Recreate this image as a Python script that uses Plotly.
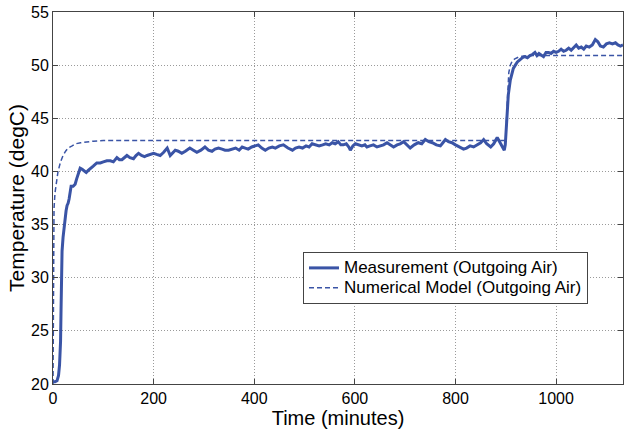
import plotly.graph_objects as go

# Measured outgoing-air temperature (minutes, degC)
meas_time = [0, 4, 8, 11, 13, 15, 16, 17, 18, 20, 22, 24, 26, 28, 30, 32, 34, 36, 40, 44, 47, 50, 54, 58,
             62, 66, 70, 74, 80, 87, 94, 100, 107, 114, 120, 127, 132, 137, 142, 147, 153, 160, 165, 170,
             176, 182, 187, 193, 200, 206, 213, 220, 227, 233, 238, 243, 249, 256, 263, 272, 279, 286, 294,
             302, 309, 316, 322, 329, 336, 342, 349, 356, 363, 370, 376, 382, 388, 395, 402, 408, 415, 422,
             429, 436, 442, 450, 458, 467, 476, 482, 489, 496, 503, 509, 515, 522, 529, 536, 542, 549, 555,
             561, 567, 572, 577, 583, 588, 591, 596, 601, 607, 614, 620, 624, 630, 637, 644, 650, 657, 664,
             670, 677, 684, 690, 697, 703, 710, 718, 726, 733, 740, 747, 754, 762, 770, 775, 780, 786, 793,
             800, 808, 816, 822, 829, 836, 843, 850, 856, 862, 870, 876, 883, 889, 894, 897, 899, 901, 903,
             905, 909, 912, 915, 919, 923, 928, 933, 938, 943, 948, 953, 958, 962, 966, 970, 975, 980, 985,
             990, 995, 1000, 1005, 1010, 1015, 1020, 1025, 1030, 1035, 1040, 1045, 1050, 1055, 1060, 1066,
             1072, 1078, 1083, 1088, 1094, 1100, 1106, 1112, 1118, 1123, 1128, 1133]
meas_temp = [20.2, 20.2, 20.3, 20.8, 21.8, 24.0, 27.0, 30.5, 32.5, 33.8, 34.8, 35.5, 36.3, 36.8, 37.0, 37.4,
             38.3, 38.6, 38.6, 38.8, 39.3, 39.8, 40.3, 40.2, 40.0, 39.9, 40.1, 40.3, 40.5, 40.8, 40.8, 40.9,
             41.0, 41.0, 40.9, 41.3, 41.1, 41.1, 41.3, 41.5, 41.3, 41.2, 41.5, 41.7, 41.5, 41.4, 41.5, 41.6,
             41.7, 41.6, 41.5, 41.8, 42.2, 41.5, 41.8, 42.0, 41.9, 41.7, 41.9, 42.2, 42.0, 41.8, 42.0, 42.3,
             42.0, 41.9, 42.1, 42.2, 42.1, 42.0, 42.0, 42.1, 42.2, 42.0, 42.3, 42.2, 42.1, 42.3, 42.4, 42.5,
             42.2, 42.0, 42.2, 42.3, 42.2, 42.4, 42.5, 42.2, 42.0, 42.2, 42.3, 42.2, 42.4, 42.3, 42.6, 42.5,
             42.4, 42.5, 42.6, 42.5, 42.7, 42.6, 42.8, 42.5, 42.5, 42.6, 42.3, 42.0, 42.4, 42.6, 42.5, 42.4,
             42.5, 42.3, 42.4, 42.5, 42.3, 42.4, 42.5, 42.7, 42.5, 42.3, 42.5, 42.6, 42.8, 42.5, 42.2, 42.5,
             42.7, 42.6, 43.0, 42.8, 42.7, 42.5, 42.4, 42.7, 43.0, 42.8, 42.7, 42.5, 42.3, 42.1, 42.2, 42.4,
             42.3, 42.5, 42.7, 43.0, 42.6, 42.3, 42.6, 43.2, 42.7, 42.3, 42.0, 42.5, 44.0, 46.0, 47.2, 48.6,
             49.2, 49.7, 50.0, 50.3, 50.5, 50.7, 50.8, 50.7, 50.9, 51.0, 51.2, 50.9, 51.1, 51.0, 50.8, 51.2,
             51.2, 51.1, 51.3, 51.2, 51.3, 51.5, 51.3, 51.4, 51.6, 51.4, 51.7, 51.9, 51.6, 51.7, 51.5, 51.8,
             51.7, 51.9, 52.4, 52.2, 51.8, 51.7, 52.0, 52.1, 52.0, 52.1, 51.9, 51.8, 51.9]

# Numerical model output (minutes, degC)
model_time = [0, 0.5, 1, 2, 4, 7, 10, 15, 20, 25, 30, 38, 45, 55, 67, 80, 100, 900, 902, 904, 906, 909,
              913, 918, 925, 935, 950, 1133]
model_temp = [20.0, 30.0, 34.0, 36.5, 38.0, 39.2, 40.0, 40.9, 41.5, 41.9, 42.2, 42.4, 42.6, 42.7, 42.8,
              42.85, 42.9, 42.9, 45.5, 48.0, 49.3, 50.0, 50.4, 50.6, 50.75, 50.85, 50.9, 50.9]

x_ticks = [0, 200, 400, 600, 800, 1000]
y_ticks = [20, 25, 30, 35, 40, 45, 50, 55]

line_color = "#3A54A6"
font_family = "Liberation Sans, Arial, sans-serif"


def legend_label(text):
    # larger glyphs inside a compact legend row
    return f"<span style='font-size:17px'>{text}</span>"


fig = go.Figure()
fig.add_trace(go.Scatter(x=meas_time, y=meas_temp, mode="lines",
                         name=legend_label("Measurement (Outgoing Air)"),
                         line=dict(color=line_color, width=3)))
fig.add_trace(go.Scatter(x=model_time, y=model_temp, mode="lines",
                         name=legend_label("Numerical Model (Outgoing Air)"),
                         line=dict(color=line_color, width=1.5, dash="5px,3px")))

axis_common = dict(
    showline=True, linecolor="#444444", linewidth=1, mirror="ticks",
    ticks="inside", ticklen=5, tickcolor="#444444",
    showgrid=True, gridcolor="#9a9a9a", griddash="1px,2px", gridwidth=1,
    zeroline=False,
    tickfont=dict(family=font_family, size=16, color="#000000"),
)

fig.update_xaxes(range=[0, 1133], tickvals=x_ticks,
                 title=dict(text="Time (minutes)", font=dict(family=font_family, size=20, color="#000000"),
                            standoff=0),
                 **axis_common)
fig.update_yaxes(range=[20, 55], tickvals=y_ticks,
                 title=dict(text="Temperature (degC)", font=dict(family=font_family, size=21, color="#000000"),
                            standoff=0),
                 **axis_common)

fig.update_layout(
    width=624, height=430,
    margin=dict(l=53, r=1, t=12, b=46),
    plot_bgcolor="white", paper_bgcolor="white",
    font=dict(family=font_family, color="#000000"),
    legend=dict(x=0.9386, y=0.355, xanchor="right", yanchor="top",
                bgcolor="white", bordercolor="#444444", borderwidth=1,
                font=dict(family=font_family, size=13, color="#000000"),
                itemwidth=30, tracegroupgap=0),
    showlegend=True,
)

fig.write_html("out.html")
